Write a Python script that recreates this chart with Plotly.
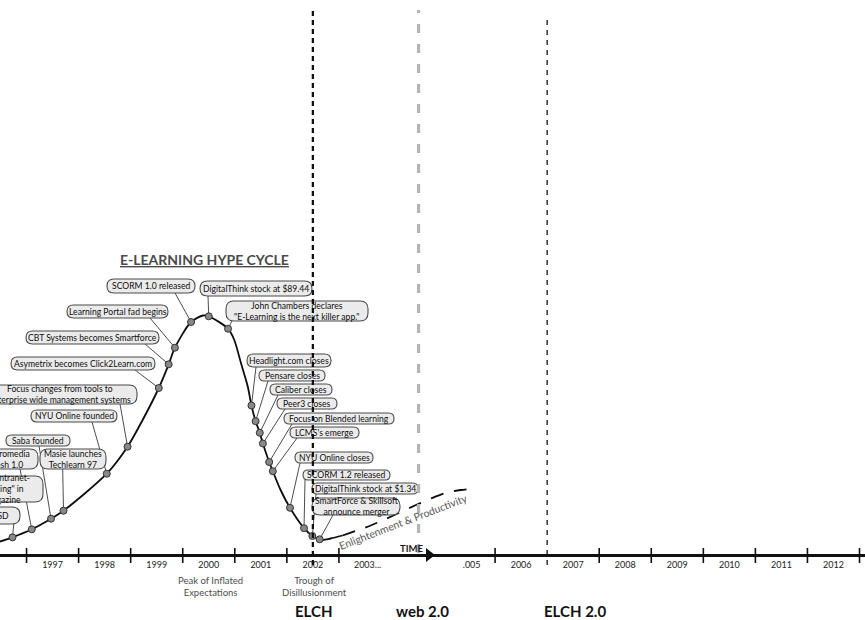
import plotly.graph_objects as go

# ---------------- data (years on x, "hype" level above the time axis on y) ----------------
curve_years = [1996.31, 1996.73, 1997.10, 1997.47, 1997.71, 1998.54, 1998.94, 1999.23, 1999.54,
               1999.73, 1999.85, 2000.16, 2000.39, 2000.50, 2000.87, 2000.99, 2001.12, 2001.25,
               2001.32, 2001.40, 2001.48, 2001.54, 2001.66, 2001.73, 2001.88, 2002.06, 2002.33,
               2002.49, 2002.63, 2002.69, 2002.84, 2003.07]
curve_hype = [10.5, 17.7, 25.7, 36.3, 44.3, 81.3, 108.3, 135, 167,
              190.7, 207.3, 233, 239.5, 238.7, 226.3, 215, 191.7, 168.3,
              149.5, 133.8, 122.2, 111.5, 93, 83.8, 65, 47.2, 26.8,
              19, 15.7, 15, 16.5, 19.5]

enlight_years = [2003.07, 2003.32, 2003.61, 2003.90, 2004.19, 2004.48, 2004.77, 2005.05, 2005.34, 2005.50]
enlight_hype = [19.5, 24, 29.5, 36, 43, 50, 56.5, 62, 65, 66]

event_years = [1996.73, 1997.10, 1997.47, 1997.71, 1998.54, 1998.94, 1999.54, 1999.73, 1999.85,
               2000.16, 2000.50, 2000.87, 2001.32, 2001.40, 2001.48, 2001.54, 2001.66, 2001.73,
               2002.06, 2002.33, 2002.49, 2002.63]
event_hype = [17.7, 25.7, 36.3, 44.3, 81.3, 108.3, 167, 190.7, 207.3,
              233, 238.7, 226.3, 149.5, 133.8, 122.2, 111.5, 93, 83.8,
              47.2, 26.8, 19, 15.7]
event_labels = [
    "ISD",
    "Macromedia<br>Flash 1.0",
    "Saba founded",
    "Masie launches<br>Techlearn 97",
    "NYU Online founded",
    "Focus changes from tools to<br>enterprise wide management systems",
    "Asymetrix becomes Click2Learn.com",
    "CBT Systems becomes Smartforce",
    "Learning Portal fad begins",
    "SCORM 1.0 released",
    "DigitalThink stock at $89.44",
    "John Chambers declares<br>\"E-Learning is the next killer app.\"",
    "Headlight.com closes",
    "Pensare closes",
    "Caliber closes",
    "Peer3 closes",
    "Focus on Blended learning",
    "LCMS's emerge",
    "NYU Online closes",
    "SCORM 1.2 released",
    "DigitalThink stock at $1.34",
    "SmartForce &amp; Skillsoft<br>announce merger",
]
offscreen_labels = ["First \"intranet-<br>learning\" in<br>Magazine"]

tick_boundaries = [1997, 1998, 1999, 2000, 2001, 2002, 2003, 2006, 2008, 2009, 2010, 2011, 2012, 2013]
year_label_pos = [1996.5, 1997.5, 1998.5, 1999.5, 2000.5, 2001.5, 2002.5, 2003.55, 2005.55,
                  2006.5, 2007.5, 2008.5, 2009.5, 2010.5, 2011.5, 2012.5]
year_labels = ["1996", "1997", "1998", "1999", "2000", "2001", "2002", "2003...", ".005",
               "2006", "2007", "2008", "2009", "2010", "2011", "2012"]

phase_labels = ["Peak of Inflated<br>Expectations", "Trough of<br>Disillusionment"]
phase_years = [2000.54, 2002.53]

era_labels = ["ELCH", "web 2.0", "ELCH 2.0"]
era_years = [2002.52, 2004.61, 2007.53]
era_line_years = [2002.5, 2004.53, 2007.0]

time_arrow_year = [2004.73]
title_text = "E-LEARNING HYPE CYCLE"
enlight_text = "Enlightenment &amp; Productivity"

# ---------------- layout helpers (pixel layout -> data coordinates) ----------------
W, H = 865, 620
AXIS_PY = 555
X0 = 1996.49
PXY = 52.06
X1 = X0 + W / PXY


def dx(px):
    return X0 + px / PXY


def dy(py):
    return AXIS_PY - py


def pill(l, r, t, b):
    rr = min(8.0, (b - t) / 2.0)

    def P(px, py):
        return f"{dx(px):.5f},{dy(py):.3f}"
    return (f"M{P(l + rr, t)} L{P(r - rr, t)} Q{P(r, t)} {P(r, t + rr)} L{P(r, b - rr)} "
            f"Q{P(r, b)} {P(r - rr, b)} L{P(l + rr, b)} Q{P(l, b)} {P(l, b - rr)} "
            f"L{P(l, t + rr)} Q{P(l, t)} {P(l + rr, t)} Z")


# box extents (l, r, t, b), leader attach point (x, y) and text x-offset, in pixels
box_px = [
    (-20, 20, 507, 524, 14, 522, 2),
    (-18, 38, 449, 469, 20, 469, -4),
    (6, 70, 435, 446, 39, 446, 0),
    (40, 106, 449, 469, 62.7, 469, 0),
    (31, 117, 410, 422, 92, 422, 0),
    (-18, 137, 385, 404, 120, 404, 0),
    (11, 155, 357, 370, 135, 370, 0),
    (26, 159, 331, 344, 145, 344, 0),
    (67, 168, 305, 318, 150, 318, 0),
    (107, 195, 279, 293, 175, 293, 0),
    (200, 312, 281, 296, 208, 296, 0),
    (226, 368, 301, 321, 232, 321, 0),
    (247, 331, 354, 367, 256, 367, 0),
    (259, 325, 370, 381, 268, 381, 0),
    (270, 332, 384, 395, 278, 395, 0),
    (277, 337, 398, 409, 285, 409, 0),
    (284, 394, 413, 424, 292, 424, 0),
    (290, 359, 427, 438, 297, 438, 0),
    (295, 373, 452, 463, 300, 463, 0),
    (303, 390, 470, 480, 305, 480, 0),
    (312, 418, 483, 494, 316, 494, 0),
    (312, 400, 498, 515, 333, 515, 0),
]
offscreen_box_px = [(-22, 43, 476, 502, -8.5)]

FONT = "Lato"
BOX_FILL = "#ebebeb"
BOX_LINE = "#4a4a4a"
BOX_FONT = dict(family=FONT, size=8.6, color="#0d0d0d")

fig = go.Figure()

# leader lines
lx, ly = [], []
for i, (l, r, t, b, ax_, ay_, _) in enumerate(box_px):
    lx += [event_years[i], dx(ax_), None]
    ly += [event_hype[i], dy(ay_), None]
fig.add_trace(go.Scatter(x=lx, y=ly, mode="lines", line=dict(color="#4d4d4d", width=1),
                         hoverinfo="skip"))

# hype curve
fig.add_trace(go.Scatter(x=curve_years, y=curve_hype, mode="lines",
                         line=dict(color="#0d0d0d", width=1.8, shape="spline", smoothing=0.8),
                         hoverinfo="skip"))
# enlightenment (dashed)
fig.add_trace(go.Scatter(x=enlight_years, y=enlight_hype, mode="lines",
                         line=dict(color="#0d0d0d", width=1.8, shape="spline", smoothing=0.8,
                                   dash="13px,11px"),
                         hoverinfo="skip"))

# event dots
fig.add_trace(go.Scatter(x=event_years, y=event_hype, mode="markers",
                         marker=dict(size=7, color="#888888", line=dict(color="#333333", width=1)),
                         hoverinfo="skip"))

# time-axis ticks (as error bars around the axis)
fig.add_trace(go.Scatter(x=tick_boundaries, y=[0] * len(tick_boundaries), mode="markers",
                         marker=dict(size=1, color="rgba(0,0,0,0)"),
                         error_y=dict(type="data", symmetric=False,
                                      array=[7] * len(tick_boundaries),
                                      arrayminus=[8] * len(tick_boundaries),
                                      thickness=1.6, width=0, color="#111111"),
                         hoverinfo="skip"))

# TIME arrow head
fig.add_trace(go.Scatter(x=time_arrow_year, y=[0], mode="markers",
                         marker=dict(symbol="triangle-right", size=12, color="#111111"),
                         hoverinfo="skip"))

shapes = []
annotations = []

# callout boxes
for i, (l, r, t, b, _, _, tdx) in enumerate(box_px):
    shapes.append(dict(type="path", path=pill(l, r, t, b), xref="x", yref="y",
                       fillcolor=BOX_FILL, line=dict(color=BOX_LINE, width=1.1), layer="above"))
    annotations.append(dict(x=dx((l + r) / 2 + tdx), y=dy((t + b) / 2), text=event_labels[i],
                            showarrow=False, xanchor="center", yanchor="middle",
                            font=BOX_FONT))
for j, (l, r, t, b, tdx) in enumerate(offscreen_box_px):
    shapes.append(dict(type="path", path=pill(l, r, t, b), xref="x", yref="y",
                       fillcolor=BOX_FILL, line=dict(color=BOX_LINE, width=1.1), layer="above"))
    annotations.append(dict(x=dx((l + r) / 2 + tdx), y=dy((t + b) / 2), text=offscreen_labels[j],
                            showarrow=False, xanchor="center", yanchor="middle",
                            font=BOX_FONT))

# era divider lines
era_styles = [
    dict(color="#111111", width=2.3, dash="5px,4px"),
    dict(color="#b5b5b5", width=3.2, dash="9px,11px"),
    dict(color="#111111", width=1.3, dash="5px,5px"),
]
era_tops = [dy(10), dy(10), dy(18)]
era_bottoms = [dy(565), dy(553), dy(565)]
for k, xv in enumerate(era_line_years):
    shapes.append(dict(type="line", x0=xv, x1=xv, y0=era_bottoms[k], y1=era_tops[k],
                       xref="x", yref="y", line=era_styles[k], layer="above"))

# title
annotations.append(dict(x=dx(204.5), y=dy(259), text="<b><u>" + title_text + "</u></b>",
                        showarrow=False, xanchor="center", yanchor="middle",
                        font=dict(family=FONT, size=14, color="#4a4a4a")))
# enlightenment text
annotations.append(dict(x=dx(402.5), y=dy(521.7), text=enlight_text, textangle=-21,
                        showarrow=False, xanchor="center", yanchor="middle",
                        font=dict(family=FONT, size=10.5, color="#555555")))
# TIME
annotations.append(dict(x=dx(411), y=dy(548), text="<b>TIME</b>", showarrow=False,
                        xanchor="center", yanchor="middle",
                        font=dict(family=FONT, size=9.5, color="#1a1a1a")))
# phase labels
for txt, xv in zip(phase_labels, phase_years):
    annotations.append(dict(x=xv, y=dy(586), text=txt, showarrow=False,
                            xanchor="center", yanchor="middle",
                            font=dict(family=FONT, size=9.5, color="#4d4d4d")))
# era labels
for txt, xv in zip(era_labels, era_years):
    annotations.append(dict(x=xv, y=dy(611), text="<b>" + txt + "</b>", showarrow=False,
                            xanchor="center", yanchor="middle",
                            font=dict(family=FONT, size=15, color="#111111")))

fig.update_layout(
    width=W, height=H,
    margin=dict(l=0, r=0, t=0, b=0, pad=0),
    paper_bgcolor="white", plot_bgcolor="white",
    showlegend=False,
    shapes=shapes,
    annotations=annotations,
    xaxis=dict(range=[X0, X1], showgrid=False, zeroline=False,
               anchor="free", position=(H - AXIS_PY) / H,
               showline=True, linecolor="#111111", linewidth=2.6,
               ticks="", tickmode="array", tickvals=year_label_pos, ticktext=year_labels,
               tickfont=dict(family=FONT, size=9, color="#222222"),
               fixedrange=True),
    yaxis=dict(range=[dy(H), dy(0)], visible=False, fixedrange=True),
)

fig.write_html("out.html", config={"displayModeBar": False},
               post_script="document.body.style.margin='0';document.body.style.overflow='hidden';")
